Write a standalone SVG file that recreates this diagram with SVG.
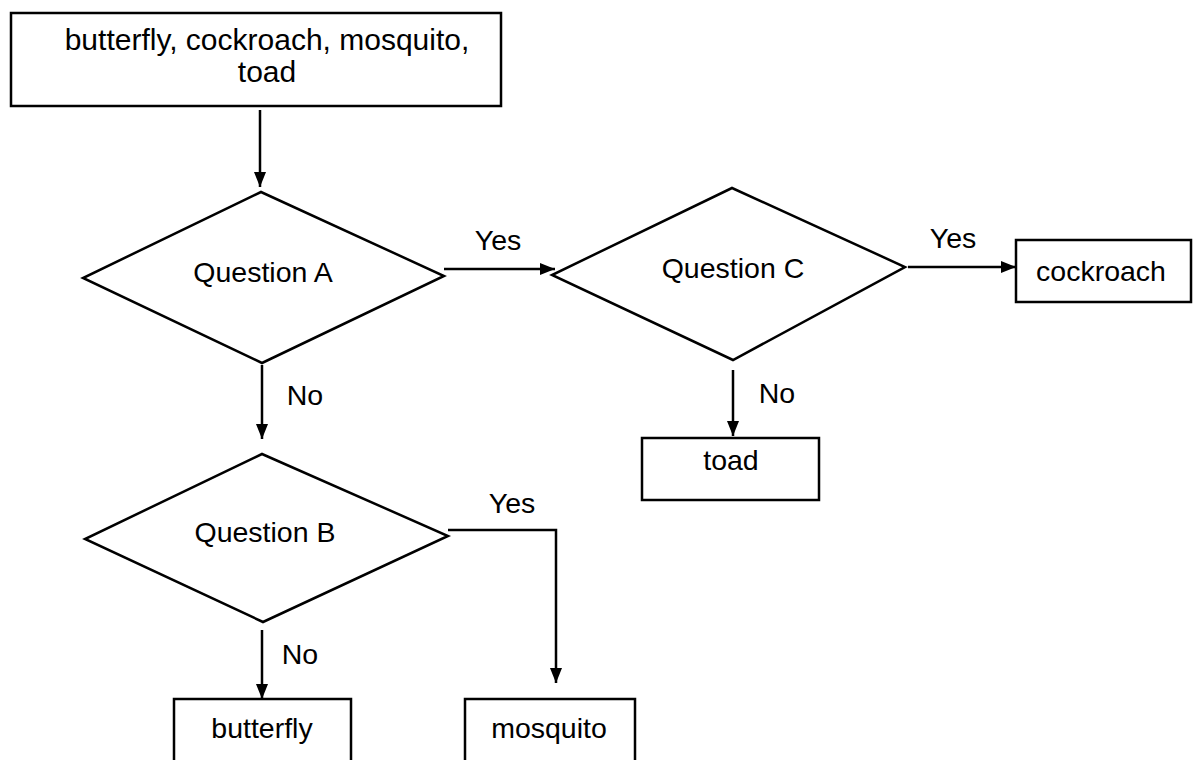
<svg xmlns="http://www.w3.org/2000/svg" width="1199" height="760" viewBox="0 0 1199 760">
<defs>
<marker id="ah" viewBox="0 0 15 12" refX="15" refY="6" markerWidth="15" markerHeight="12" markerUnits="userSpaceOnUse" orient="auto">
<path d="M0,0 L15,6 L0,12 z" fill="#000"/>
</marker>
</defs>
<style>
.box{fill:#fff;stroke:#000;stroke-width:2.5}
.dia{fill:#fff;stroke:#000;stroke-width:2.5}
.t{font-family:"Liberation Sans",Arial,sans-serif;font-size:28.5px;fill:#000;text-anchor:middle}
.big{font-size:30px}
.lbl{font-family:"Liberation Sans",Arial,sans-serif;font-size:28.5px;fill:#000;text-anchor:middle}
.c{fill:none;stroke:#000;stroke-width:2.5}
</style>
<rect width="1199" height="760" fill="#fff"/>
<g id="start">
<rect class="box" x="11" y="13" width="490" height="93"/>
<text class="t big" x="267" y="50">butterfly, cockroach, mosquito,</text>
<text class="t big" x="267" y="82">toad</text>
</g>
<g id="qA">
<polygon class="dia" points="261,192 444,276 262,363 83,278"/>
<text class="t" x="263" y="282">Question A</text>
</g>
<g id="qC">
<polygon class="dia" points="732,188 905,267 733,360 552,275"/>
<text class="t" x="733" y="278">Question C</text>
</g>
<g id="qB">
<polygon class="dia" points="262,454 448,536 263,622 85,539"/>
<text class="t" x="265" y="542">Question B</text>
</g>
<g id="cockroach">
<rect class="box" x="1016" y="240" width="175" height="62"/>
<text class="t" x="1101" y="281">cockroach</text>
</g>
<g id="toad">
<rect class="box" x="642" y="438" width="177" height="62"/>
<text class="t" x="731" y="470">toad</text>
</g>
<g id="butterfly">
<rect class="box" x="174" y="699" width="177" height="70"/>
<text class="t" x="262" y="738">butterfly</text>
</g>
<g id="mosquito">
<rect class="box" x="465" y="699" width="170" height="70"/>
<text class="t" x="549" y="738">mosquito</text>
</g>
<g id="connectors">
<line class="c" x1="260" y1="110" x2="260" y2="187" marker-end="url(#ah)"/>
<line class="c" x1="444" y1="269" x2="555" y2="269" marker-end="url(#ah)"/>
<text class="lbl" x="498" y="250">Yes</text>
<line class="c" x1="262" y1="365" x2="262" y2="439" marker-end="url(#ah)"/>
<text class="lbl" x="305" y="405">No</text>
<line class="c" x1="908" y1="267" x2="1016" y2="267" marker-end="url(#ah)"/>
<text class="lbl" x="953" y="248">Yes</text>
<line class="c" x1="733" y1="370" x2="733" y2="436" marker-end="url(#ah)"/>
<text class="lbl" x="777" y="403">No</text>
<polyline class="c" points="448,530 556,530 556,683" marker-end="url(#ah)"/>
<text class="lbl" x="512" y="513">Yes</text>
<line class="c" x1="262" y1="630" x2="262" y2="699" marker-end="url(#ah)"/>
<text class="lbl" x="300" y="664">No</text>
</g>
</svg>
